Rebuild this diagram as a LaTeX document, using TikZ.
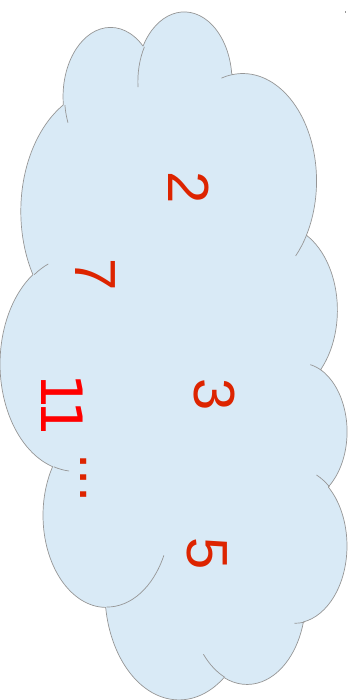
\documentclass[tikz,border=0pt]{standalone}
\usepackage{fontspec}
\setmainfont{Liberation Sans}
\newfontfamily\dejavu{DejaVu Sans}
\definecolor{cloudfill}{RGB}{217,234,246}
\definecolor{cloudline}{RGB}{150,150,150}
\definecolor{numred}{RGB}{221,36,0}
\definecolor{brightred}{RGB}{255,0,0}
% elliptic arc given as in DrawingML: radii, visual start angle, visual sweep
\newcommand\cloudarc[4]{%
  \pgfextra{%
    \pgfmathsetmacro\cldS{atan2((#1)*sin(#3),(#2)*cos(#3))}%
    \pgfmathsetmacro\cldE{atan2((#1)*sin((#3)+(#4)),(#2)*cos((#3)+(#4)))}%
    \pgfmathsetmacro\cldD{\cldE-\cldS}%
    \pgfmathsetmacro\cldD{\cldD-360*round((\cldD-(#4))/360)}%
    \xdef\cldGS{\cldS}\xdef\cldGD{\cldD}%
  }%
  arc[x radius=#1, y radius=#2, start angle=\cldGS, delta angle=\cldGD]%
}
\tikzset{
  cloudbody/.style={fill=cloudfill, draw=cloudline, line width=0.7pt, line join=round},
  cloudinner/.style={draw=cloudline, line width=0.7pt},
  numtext/.style={text=numred, inner sep=0pt, rotate=-90, font=\fontsize{58}{64}\selectfont},
  bigtext/.style={text=brightred, inner sep=0pt, rotate=-90, font=\dejavu\fontsize{57}{64}\selectfont}
}
\begin{document}
\begin{tikzpicture}[x=1pt, y=-1pt]
\useasboundingbox (0,0) rectangle (353,700);
\begin{scope}[shift={(348.2,12.5)}, x={(0pt,-15.905pt)}, y={(-8.03pt,0pt)}]
  \path[cloudbody] (3.9,14.37)
    \cloudarc{6.753}{9.19}{-190.48748}{123.78053}
    \cloudarc{5.333}{7.267}{-144.10238}{89.94523}
    \cloudarc{4.365}{5.945}{-145.80792}{99.72302}
    \cloudarc{4.857}{6.595}{-130.98607}{117.24173}
    \cloudarc{5.333}{7.273}{-78.70888}{109.02692}
    \cloudarc{6.775}{9.22}{-46.26725}{130.269}
    \cloudarc{5.785}{7.867}{0.62502}{114.03333}
    \cloudarc{6.752}{9.215}{22.4516}{115.17255}
    \cloudarc{7.72}{10.543}{66.24263}{75.71102}
    \cloudarc{4.36}{5.918}{-274.94208}{146.73557}
    \cloudarc{4.345}{5.945}{-246.8285}{152.51885}
    -- cycle;
  \path[cloudinner]
    (4.693,26.177) \cloudarc{4.345}{5.945}{86.742}{26.4295}
    (6.928,34.899) \cloudarc{4.36}{5.918}{73.6105}{11.4475}
    (16.478,39.09) \cloudarc{6.752}{9.215}{137.6242}{14.0811}
    (28.827,34.751) \cloudarc{6.752}{9.215}{6.4533}{15.9984}
    (34.129,22.954) \cloudarc{5.785}{7.867}{-70.2924}{70.9174}
    (41.798,15.354) \cloudarc{5.333}{7.273}{30.318}{27.7515}
    (38.324,5.426) \cloudarc{4.857}{6.595}{-13.7443}{14.8589}
    (29.078,3.952) \cloudarc{4.857}{6.595}{-149.1815}{18.1954}
    (22.141,4.72) \cloudarc{4.365}{5.945}{-163.4943}{17.6864}
    (14.0,5.192) \cloudarc{6.753}{9.19}{-66.707}{12.3194}
    (4.127,15.789) \cloudarc{6.753}{9.19}{157.6544}{11.8582};
\end{scope}
\fill[cloudline] (344.5,11.5) rectangle (346,13);
\node[numtext] (n2) at (189,187.5) {2};
\node[numtext] (n7) at (95.5,274.5) {7};
\node[numtext] (n3) at (214.5,394.5) {3};
\node[numtext] (n5) at (207.5,553.3) {5};
\node[bigtext] (n11) at (62.5,405) {1\kern-9pt 1};
\node[numtext] (ndots) at (83.3,478) {...};
\end{tikzpicture}
\end{document}
